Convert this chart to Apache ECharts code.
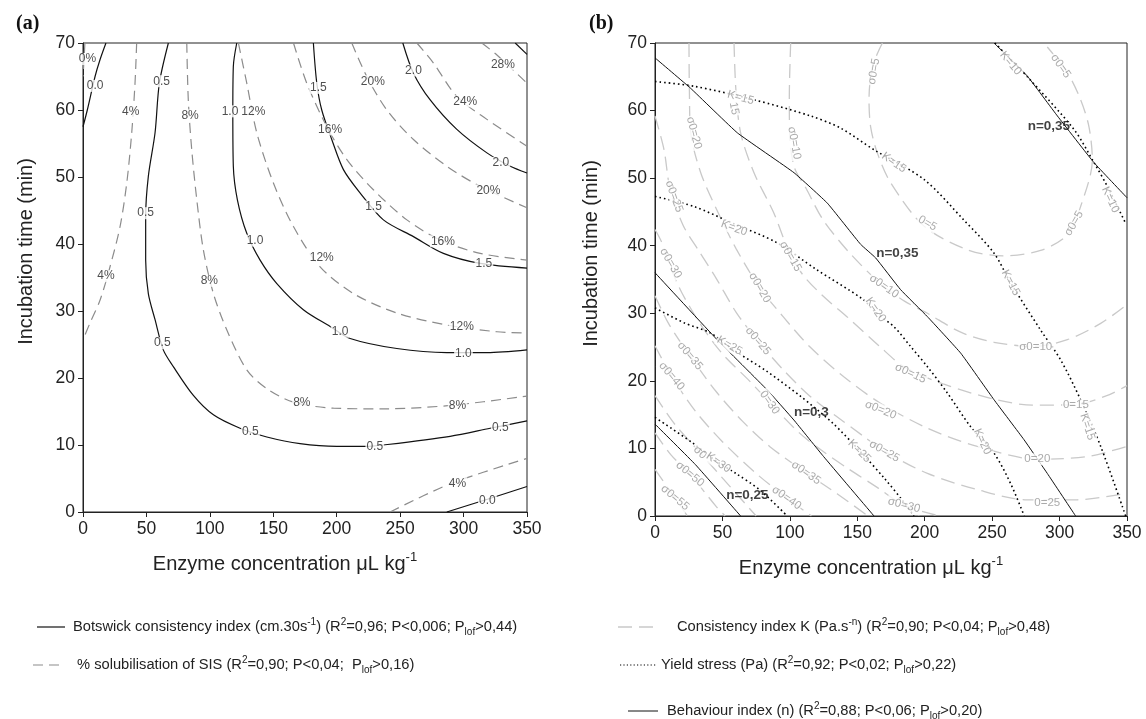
<!DOCTYPE html>
<html>
<head>
<meta charset="utf-8">
<script src="https://cdn.jsdelivr.net/npm/echarts@6/dist/echarts.min.js"></script>
<style>
  html, body { margin: 0; padding: 0; background: #fff; }
  #chart { width: 1146px; height: 719px; }
</style>
</head>
<body>
<div id="chart"></div>
<script>
// contour lines, [enzyme µL/kg, time min]
// --- panel (a): Botswick consistency index (solid)
var bots00top = [[0,57.5],[3.4,60],[9.5,65],[13.4,67.5],[18.1,70]];
var bots05 = [[67.3,70],[60.2,64],[56.8,56.6],[51.5,50.1],[49.4,44.1],[49.4,37.6],[51.5,32.6],[56.8,28.7],[63.3,24.2],[71.2,21.7],[87,17.4],[102.8,14.5],[123.8,12.5],[144.9,11.2],[171.1,10.2],[200.1,9.8],[223.7,9.8],[236.8,10],[289.4,11.3],[321,12.5],[350,13.6]];
var bots10 = [[121.2,70],[118.5,66.5],[118.1,59.6],[118.5,51.6],[121.7,46.6],[129.1,41.6],[139.6,37.6],[152.8,34.1],[173.7,30.2],[194.8,27.7],[210.6,25.9],[247.4,24.4],[286.8,23.8],[318.4,23.8],[350,24.2]];
var bots15 = [[181.6,70],[184.3,64],[188.2,60],[196.1,55.6],[205.3,51.1],[218.5,47.6],[236.8,43.6],[260.5,41.1],[284.1,38.6],[313.1,37.1],[350,36.4]];
var bots20 = [[252.1,70],[260.5,65.5],[273.7,61.5],[294.7,57.1],[318.4,53.6],[336.8,51.6],[350,50.6]];
var bots25 = [[340.7,70],[350,68.3]];
var bots00bot = [[286.8,0],[318.8,1.9],[350,3.8]];

// --- panel (a): % solubilisation of SIS (dashed)
var sis0 = [[1.5,70],[0.8,67.5],[0,65]];
var sis4top = [[42.3,70],[41,64],[38.4,56.6],[34.5,49.1],[29.2,42.6],[21.3,36.6],[13.4,31.6],[5.5,28.2],[0,25.7]];
var sis8 = [[81.8,70],[83,61.5],[85.7,54.1],[89.7,46.6],[94.9,39.1],[102.8,32.6],[113.3,27.2],[129.1,21.2],[144.9,18.4],[165.9,16.4],[197.4,15.5],[236.8,15.4],[289.4,15.9],[350,17.3]];
var sis12 = [[122.5,70],[129.1,64],[137,56.6],[150.1,49.1],[165.9,42.6],[186.9,36.6],[213.2,32.6],[247.4,29.7],[286.8,27.9],[326.3,26.9],[350,26.7]];
var sis16 = [[165.9,70],[176.4,64],[192.2,57.5],[208,52.6],[228.9,48.1],[255.3,43.6],[281.5,40.6],[313.1,38.6],[350,37.6]];
var sis20 = [[211.9,70],[223.7,65],[239.5,60],[260.5,55.6],[286.8,51.6],[313.1,48.6],[350,45.4]];
var sis24 = [[263.2,70],[276.3,67],[294.7,62],[318.4,58.6],[350,54.6]];
var sis28 = [[314.4,70],[326.3,68.2],[350,64]];
var sis4bot = [[242.1,0],[289.4,4.2],[350,8]];

// [x, y, text]
var labelsA = [
  [3.5,67.6,'0%'],[9.5,63.6,'0.0'],[62,64.3,'0.5'],[37.6,59.7,'4%'],[84.4,59.2,'8%'],
  [115.9,59.8,'1.0'],[134.3,59.7,'12%'],[49.4,44.6,'0.5'],[18.1,35.2,'4%'],[135.6,40.5,'1.0'],
  [99.6,34.5,'8%'],[62.5,25.2,'0.5'],[185.6,63.3,'1.5'],[194.8,57.1,'16%'],[228.5,64.3,'20%'],
  [260.5,65.9,'2.0'],[301.3,61.3,'24%'],[331,66.8,'28%'],[329.4,52.1,'2.0'],[319.6,48,'20%'],
  [229,45.6,'1.5'],[283.7,40.4,'16%'],[316,37.1,'1.5'],[188.2,37.9,'12%'],[202.7,26.9,'1.0'],
  [298.6,27.7,'12%'],[299.9,23.7,'1.0'],[172.5,16.3,'8%'],[295.2,15.9,'8%'],[132,12,'0.5'],
  [230,9.8,'0.5'],[329,12.6,'0.5'],[295.2,4.3,'4%'],[318.8,1.7,'0.0']
];

// --- panel (b): behaviour index n (solid)
var n035top = [[251.4,70],[276.1,65.1],[298.4,59.2],[325.5,52.3],[350,47.1]];
var n035 = [[0,67.8],[26.4,63.3],[61.1,56.7],[103.1,50.8],[127.8,46.3],[152.5,40.2],[163.6,38.2],[182.1,33.5],[202,29.5],[226.7,24.1],[251.4,17.2],[273.6,11.3],[290.9,6.3],[311.9,0]];
var n030 = [[0,36],[46,26.1],[83,18.7],[103,14.2],[125,8.8],[162.4,0]];
var n025 = [[0,13.6],[30,7.6],[63.5,0]];

// --- panel (b): K (dotted)
var k10 = [[252,70],[276.1,65],[310.7,57.2],[325.5,52.3],[335.4,48.8],[349,43.3]];
var k15 = [[0,64.3],[28.9,63.6],[73.4,61.6],[115.4,59.2],[137.7,57.4],[162.4,54.2],[199.5,49.8],[229,43.8],[251.4,38.9],[263.7,34.5],[286,27.5],[300.8,23.1],[315.6,17.2],[330.5,10.3],[349,0]];
var k20 = [[0,47.3],[28.9,45.8],[59,43.2],[89.9,40.5],[119.5,36.5],[153.9,32.1],[163.8,30.1],[177.2,28],[189.5,25.1],[202,22.1],[216.8,18.2],[234.1,13.2],[251.4,9.3],[263.7,4.8],[273.8,0]];
var k25 = [[0,30.8],[21.5,28.6],[41,27.1],[58,24.6],[83,21.4],[108,17.7],[132,13.7],[152,9.6],[170,5.6],[183.5,2.3],[192,0]];
var k30 = [[0,14.6],[28,10.8],[45.6,8.1],[60,6.3],[78,3.8],[98,0]];

// --- panel (b): sigma0 (dashed light grey)
var s5 = [[168.6,70],[161.2,66.5],[158.7,61.6],[159.9,57.6],[164.9,53.7],[174.8,49.3],[199.5,42.9],[231.7,39.4],[258,38.5],[286,39.3],[305.8,41.6],[315.6,45.8],[324.3,52.7],[321.8,57.6],[315.6,61.6],[305.8,65.6],[288.4,70]];
var s10 = [[100.6,70],[99.6,62],[100,56],[103.5,51.5],[112,48.5],[124.4,43.9],[144,39],[168.7,34.1],[185,31.8],[202,30],[226.7,27.2],[251.4,25.7],[281,25.1],[305.8,26.1],[330.5,28.5],[350,31.3]];
var s15 = [[58.6,70],[60,63],[63.5,56.7],[73.4,50.8],[88.2,44.8],[100,38.8],[110,35.6],[124.4,32.6],[144,29.2],[166,25.2],[184.6,22.1],[214.3,19.5],[251.4,17.3],[280,16.4],[312,16.5],[335,17.8],[350,19.3]];
var s20 = [[25.2,70],[25.5,63],[26.5,56.7],[33.9,50.8],[45.6,45.4],[60.3,39.5],[77.6,33.8],[95,29.5],[115,25],[140,20.6],[166.3,16.8],[202,13],[239,10.3],[283.5,8.4],[320.6,8.8],[350,10.3]];
var s25 = [[0,59.2],[6.7,54.2],[11.1,48.5],[20.9,43],[33.3,39],[45.6,35.1],[60.3,30.1],[76.4,25.9],[94.8,21.7],[114.5,17.8],[134.2,14.8],[153.9,11.9],[170,9.6],[202,6.3],[239,3.9],[276,2.4],[313,2.4],[350,3.4]];
var s30 = [[0,42.4],[5,40.5],[11.1,37],[20,33],[35,28],[50,24],[70,20],[85,16.8],[107,12.3],[125,9.5],[144,6.9],[165,4.2],[184.6,1.6],[211,0]];
var s35 = [[0,32.6],[10,28.5],[25.9,23.7],[45,18.5],[65,14],[85,10.3],[112,6.4],[135,3.3],[158,0]];
var s40 = [[0,25.2],[12.3,20.7],[30,15.5],[50,11],[75,6.3],[97.5,2.7],[116,0]];
var s45 = [[0,17.8],[15,13.5],[33.3,9.4],[55,4.5],[75,0]];
var s50 = [[0,12.3],[12,9],[25.9,6.2],[45,1.5],[52,0]];
var s55 = [[0,6.9],[14.8,2.7],[24,0]];

// [x, y, text, angle]
var labelsBgrey = [
  [63.5,61.9,'K=15',-15],[58.6,60.3,'15',-80],[28.9,56.7,'σ0=20',-75],[103.3,55.2,'σ0=10',-80],
  [177.2,52.3,'K=15',-35],[162.4,65.8,'σ0=5',80],[300.8,66.6,'σ0=5',-55],[202,43.3,'0=5',-30],
  [310.7,43.3,'σ0=5',60],[263.7,67,'K=10',-50],[337.7,46.8,'K=10',-65],[14.1,47.3,'σ0=25',-70],
  [58.6,42.6,'K=20',-20],[100.5,38.4,'σ0=15',-60],[169.8,34,'σ0=10',-35],[163.6,30.5,'K=20',-55],
  [263.7,34.5,'K=15',-62],[282.3,25.1,'σ0=10',0],[11.6,37.4,'σ0=30',-60],[77.6,33.8,'σ0=20',-60],
  [189.5,21.1,'σ0=15',-25],[312.1,16.4,'0=15',0],[320.6,13.2,'K=15',-72],[167.3,15.7,'σ0=20',-22],
  [283.5,8.4,'0=20',0],[242.7,11,'K=20',-65],[55.4,25.2,'K=25',-30],[76.4,25.9,'σ0=25',-50],
  [25.9,23.7,'σ0=35',-50],[12.3,20.7,'σ0=40',-50],[85,16.8,'0=30',-55],[151.5,9.6,'K=25',-45],
  [170,9.6,'σ0=25',-30],[184.6,1.6,'σ0=30',-15],[290.9,2,'0=25',0],[33.3,9.4,'σ0',-45],
  [47,7.9,'K=30',-35],[25.9,6.2,'σ0=50',-40],[14.8,2.7,'σ0=55',-40],[112,6.4,'σ0=35',-35],
  [97.5,2.7,'σ0=40',-35]
];
var labelsBn = [[292.1,57.7,'n=0,35'],[179.7,38.9,'n=0,35'],[116,15.3,'n=0,3'],[68.5,3.1,'n=0,25']];

var xTicks = {min: 0, max: 350, step: 50};
var yTicks = {min: 0, max: 70, step: 10};

var FONT = 'Liberation Sans, Arial, Helvetica, sans-serif';
var chart = echarts.init(document.getElementById('chart'));

var solidA = {color: '#111', width: 1.2, type: 'solid'};
var dashA = {color: '#8c8c8c', width: 1.2, type: [10, 6]};
var solidB = {color: '#111', width: 1, type: 'solid'};
var dotB = {color: '#000', width: 1.6, type: [1.6, 3]};
var dashB = {color: '#c9c9c9', width: 1.3, type: [14, 7]};

function line(data, g, style, smooth) {
    return {
        type: 'line', xAxisIndex: g, yAxisIndex: g, data: data,
        symbol: 'none', smooth: smooth, lineStyle: style, silent: true, z: 2
    };
}

function labels(list, g, color, size, weight, bg) {
    return {
        type: 'scatter', xAxisIndex: g, yAxisIndex: g, symbolSize: 1, silent: true, z: 5,
        itemStyle: {color: 'rgba(0,0,0,0)'},
        data: list.map(function (d) {
            return {value: [d[0], d[1]], name: d[2], label: {rotate: d[3] || 0}};
        }),
        label: {
            show: true, position: 'inside', formatter: function (p) { return p.name; },
            color: color, fontSize: size, fontWeight: weight, fontFamily: FONT,
            backgroundColor: bg, padding: bg ? [0, 1] : 0
        }
    };
}

var series = [];
[bots00top, bots05, bots10, bots15, bots20, bots25, bots00bot].forEach(function (d) {
    series.push(line(d, 0, solidA, 0.3));
});
[sis0, sis4top, sis8, sis12, sis16, sis20, sis24, sis28, sis4bot].forEach(function (d) {
    series.push(line(d, 0, dashA, 0.3));
});
[s5, s10, s15, s20, s25, s30, s35, s40, s45, s50, s55].forEach(function (d) {
    series.push(line(d, 1, dashB, 0.3));
});
[k10, k15, k20, k25, k30].forEach(function (d) {
    series.push(line(d, 1, dotB, 0.3));
});
[n035top, n035, n030, n025].forEach(function (d) {
    series.push(line(d, 1, solidB, 0.1));
});
series.push(labels(labelsA, 0, '#222', 12, 'normal', '#fff'));
series.push(labels(labelsBgrey, 1, '#959595', 11.5, 'normal', '#fff'));
series.push(labels(labelsBn, 1, '#111', 13.5, 'bold', null));

function xAxis(g) {
    return {
        gridIndex: g, type: 'value', min: xTicks.min, max: xTicks.max, interval: xTicks.step,
        axisLine: {show: true, onZero: false, lineStyle: {color: '#222', width: 1}},
        axisTick: {show: true, length: 5, lineStyle: {color: '#222'}},
        axisLabel: {fontSize: 17.5, color: '#222', margin: 8, fontFamily: FONT, showMinLabel: true, showMaxLabel: true},
        splitLine: {show: false},
        name: 'Enzyme concentration μL kg{sup|-1}', nameLocation: 'middle', nameGap: 39,
        nameTextStyle: {
            fontSize: 20, color: '#222', fontFamily: FONT, lineHeight: 26, padding: [0, 40, 0, 0],
            rich: {sup: {fontSize: 13, lineHeight: 13, verticalAlign: 'top', color: '#222', fontFamily: FONT}}
        }
    };
}
function yAxis(g, gap) {
    return {
        gridIndex: g, type: 'value', min: yTicks.min, max: yTicks.max, interval: yTicks.step,
        axisLine: {show: true, onZero: false, lineStyle: {color: '#222', width: 1}},
        axisTick: {show: true, length: 5, lineStyle: {color: '#222'}},
        axisLabel: {fontSize: 17.5, color: '#222', margin: 8, fontFamily: FONT, showMinLabel: true, showMaxLabel: true},
        splitLine: {show: false},
        name: 'Incubation time (min)', nameLocation: 'middle', nameGap: gap,
        nameTextStyle: {fontSize: 20, color: '#222', fontFamily: FONT, padding: [0, 0, 0, 52]}
    };
}

var richLeg = {
    sup: {fontSize: 10, lineHeight: 10, verticalAlign: 'top', fill: '#222', fontFamily: FONT},
    sub: {fontSize: 10, lineHeight: 10, verticalAlign: 'bottom', fill: '#222', fontFamily: FONT}
};
function legText(x, y, text) {
    return {
        type: 'text', x: x, y: y, silent: true,
        style: {
            text: text, fill: '#222', fontSize: 14.7, fontFamily: FONT, lineHeight: 20,
            verticalAlign: 'middle', rich: richLeg
        }
    };
}
function legLine(x1, x2, y, stroke, dash, w) {
    return {
        type: 'line', silent: true,
        shape: {x1: x1, y1: y, x2: x2, y2: y},
        style: {stroke: stroke, lineWidth: w, lineDash: dash}
    };
}

var option = {
    animation: false,
    backgroundColor: '#fff',
    title: [
        {text: '(a)', left: 11, top: 9, textStyle: {fontFamily: 'Liberation Serif, Times New Roman, serif', fontWeight: 'bold', fontSize: 20, color: '#111'}},
        {text: '(b)', left: 584, top: 9, textStyle: {fontFamily: 'Liberation Serif, Times New Roman, serif', fontWeight: 'bold', fontSize: 20, color: '#111'}}
    ],
    grid: [
        {left: 83, top: 43, width: 444, height: 469, show: true, borderColor: '#222', borderWidth: 1, containLabel: false, outerBoundsMode: 'none'},
        {left: 655, top: 43, width: 472, height: 473, show: true, borderColor: '#222', borderWidth: 1, containLabel: false, outerBoundsMode: 'none'}
    ],
    xAxis: [xAxis(0), xAxis(1)],
    yAxis: [yAxis(0, 47), yAxis(1, 54)],
    series: series,
    graphic: [
        legLine(37, 65, 627, '#111', null, 1.2),
        legText(73, 627, 'Botswick consistency index (cm.30s{sup|-1}) (R{sup|2}=0,96; P<0,006; P{sub|lof}>0,44)'),
        legLine(33, 63, 665, '#8c8c8c', [10, 6], 1.2),
        legText(77, 665, '% solubilisation of SIS (R{sup|2}=0,90; P<0,04;  P{sub|lof}>0,16)'),
        legLine(618, 658, 627, '#c9c9c9', [14, 7], 1.3),
        legText(677, 627, 'Consistency index K (Pa.s{sup|-n}) (R{sup|2}=0,90; P<0,04; P{sub|lof}>0,48)'),
        legLine(620, 657, 665, '#000', [1.2, 2.2], 1.2),
        legText(661, 665, 'Yield stress (Pa) (R{sup|2}=0,92; P<0,02; P{sub|lof}>0,22)'),
        legLine(628, 658, 711, '#111', null, 1),
        legText(667, 711, 'Behaviour index (n) (R{sup|2}=0,88; P<0,06; P{sub|lof}>0,20)')
    ]
};

chart.setOption(option);
</script>
</body>
</html>
